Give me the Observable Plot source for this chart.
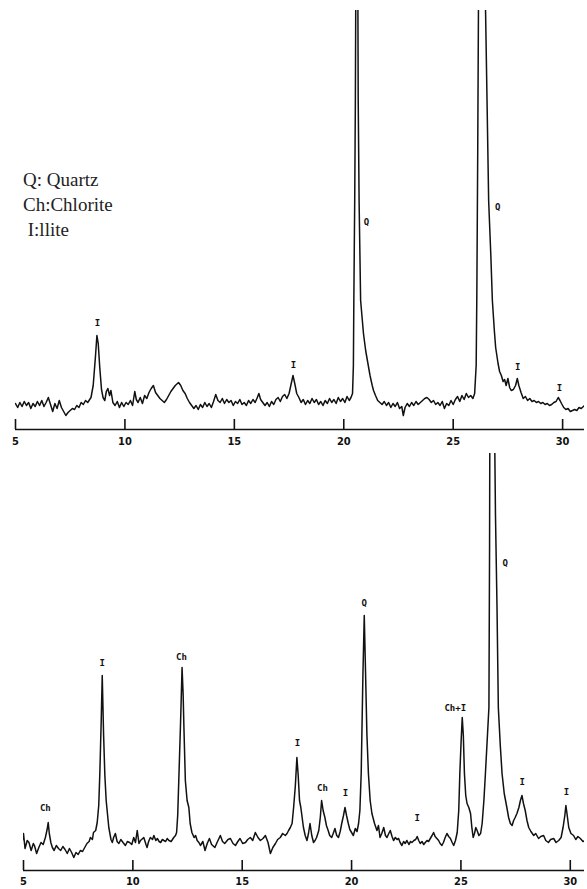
<!DOCTYPE html>
<html><head><meta charset="utf-8">
<script src="https://cdn.jsdelivr.net/npm/d3@7"></script>
<script src="https://cdn.jsdelivr.net/npm/@observablehq/plot@0.6"></script>
<style>
body{margin:0;background:#fff;}
#wrap{position:relative;width:587px;height:889px;overflow:hidden;background:#fff;color:#111;}
#top{position:absolute;left:0;top:0;}
#bot{position:absolute;left:0;top:450px;}
#legend{position:absolute;left:23px;top:167px;font-family:"Liberation Serif",serif;font-size:19px;line-height:25px;color:#222;white-space:pre;}
</style></head><body>
<div id="wrap"><div id="top"></div><div id="bot"></div><div id="legend"></div></div>
<script>
// 2θ tick labels
const thetaTicks = [5, 10, 15, 20, 25, 30];
const legendLines = ["Q: Quartz", "Ch:Chlorite", " I:llite"];

// upper pattern: [2θ, intensity above baseline]
const topPattern = [
[5.0,2],[5.1,-2],[5.2,3],[5.3,-1],[5.4,4],[5.5,0],[5.6,3],[5.7,-3],[5.8,2],[5.9,-1],[6.0,4],[6.1,0],[6.2,5],[6.3,-1],[6.4,3],[6.5,8],[6.6,1],[6.7,-6],[6.8,2],[6.9,-3],[7.0,5],[7.1,-2],[7.2,-6],[7.3,-10],[7.4,-7],[7.5,-5],[7.6,-3],[7.7,-4],[7.8,0],[7.9,-2],[8.0,3],[8.1,1],[8.2,5],[8.3,3],[8.45,8],[8.55,20],[8.65,48],[8.72,70],[8.78,62],[8.85,38],[8.93,16],[9.0,8],[9.08,5],[9.15,14],[9.22,17],[9.3,10],[9.36,15],[9.45,3],[9.55,0],[9.65,4],[9.75,-2],[9.85,3],[9.95,-1],[10.05,3],[10.15,1],[10.25,5],[10.35,0],[10.45,14],[10.52,6],[10.6,3],[10.7,8],[10.8,2],[10.9,10],[11.0,7],[11.1,13],[11.2,17],[11.3,20],[11.4,13],[11.5,10],[11.6,7],[11.7,5],[11.8,3],[11.9,6],[12.0,10],[12.1,14],[12.2,17],[12.3,20],[12.45,23],[12.55,20],[12.65,15],[12.75,12],[12.85,7],[12.95,3],[13.05,0],[13.15,-3],[13.25,0],[13.35,-4],[13.45,1],[13.55,-2],[13.65,3],[13.75,-1],[13.85,2],[13.95,-2],[14.05,4],[14.15,11],[14.25,5],[14.35,3],[14.45,7],[14.55,2],[14.65,6],[14.75,3],[14.85,5],[14.95,0],[15.05,4],[15.15,2],[15.25,6],[15.35,1],[15.45,3],[15.55,0],[15.65,5],[15.75,2],[15.85,6],[15.95,3],[16.05,8],[16.12,12],[16.2,6],[16.3,3],[16.4,0],[16.5,3],[16.6,-1],[16.7,4],[16.8,1],[16.9,6],[17.0,8],[17.1,4],[17.2,9],[17.3,11],[17.4,7],[17.5,12],[17.6,22],[17.68,30],[17.76,22],[17.85,12],[17.95,8],[18.05,3],[18.15,6],[18.25,1],[18.35,5],[18.45,2],[18.55,7],[18.65,3],[18.75,6],[18.85,1],[18.95,4],[19.05,0],[19.15,5],[19.25,2],[19.35,7],[19.45,3],[19.55,6],[19.65,2],[19.75,8],[19.85,4],[19.95,7],[20.05,3],[20.15,9],[20.25,5],[20.33,8],[20.40,12],[20.44,40],[20.46,105],[20.50,205],[20.53,305],[20.60,700],[20.66,305],[20.70,205],[20.77,105],[20.90,72],[21.0,55],[21.08,45],[21.2,30],[21.3,20],[21.36,15],[21.45,10],[21.55,5],[21.65,3],[21.75,1],[21.85,4],[21.95,0],[22.05,3],[22.15,-2],[22.25,2],[22.35,-1],[22.45,3],[22.55,-3],[22.65,-1],[22.72,-10],[22.8,-2],[22.9,2],[23.0,-1],[23.1,3],[23.2,0],[23.3,4],[23.4,1],[23.5,3],[23.6,5],[23.7,7],[23.8,8],[23.9,6],[24.0,3],[24.1,5],[24.2,1],[24.3,3],[24.4,0],[24.5,4],[24.6,-3],[24.7,2],[24.8,0],[24.9,5],[25.0,1],[25.1,6],[25.2,9],[25.3,4],[25.4,10],[25.5,6],[25.6,12],[25.7,8],[25.8,10],[25.9,7],[25.98,12],[26.05,40],[26.08,110],[26.12,250],[26.16,420],[26.3,700],[26.46,420],[26.55,300],[26.62,205],[26.72,150],[26.79,105],[26.88,75],[26.94,58],[27.05,42],[27.12,34],[27.2,30],[27.28,24],[27.35,26],[27.42,20],[27.5,27],[27.58,18],[27.65,15],[27.75,16],[27.85,20],[27.93,27],[28.0,20],[28.1,13],[28.2,7],[28.3,9],[28.4,5],[28.5,7],[28.6,4],[28.7,5],[28.8,3],[28.9,4],[29.0,2],[29.1,3],[29.2,1],[29.3,2],[29.4,0],[29.5,1],[29.6,3],[29.7,4],[29.8,8],[29.88,5],[29.95,2],[30.05,-2],[30.15,-4],[30.25,-3],[30.35,-6],[30.45,-5],[30.55,-4],[30.65,-5],[30.75,-2],[30.85,-3],[30.95,-1],[31.0,0]
];

// lower pattern: [2θ, intensity above baseline]
const bottomPattern = [
[4.95,5],[5.0,12],[5.07,-3],[5.17,5],[5.25,3],[5.35,-5],[5.45,2],[5.5,0],[5.6,-8],[5.7,-2],[5.8,3],[5.9,1],[6.0,8],[6.08,16],[6.13,23],[6.18,12],[6.25,3],[6.32,-2],[6.4,-5],[6.5,0],[6.6,-3],[6.7,-5],[6.8,-1],[6.9,-4],[7.0,-8],[7.1,-3],[7.2,-7],[7.3,-12],[7.4,-7],[7.5,-9],[7.6,-5],[7.7,-6],[7.8,-2],[7.9,2],[8.0,4],[8.06,8],[8.15,6],[8.2,13],[8.3,15],[8.37,23],[8.44,40],[8.49,72],[8.55,122],[8.6,170],[8.66,112],[8.72,70],[8.78,45],[8.9,18],[9.0,6],[9.06,3],[9.12,8],[9.2,12],[9.28,4],[9.36,2],[9.45,6],[9.55,3],[9.66,0],[9.75,4],[9.85,3],[9.95,1],[10.04,8],[10.12,3],[10.2,15],[10.28,2],[10.35,5],[10.5,8],[10.6,1],[10.65,-2],[10.72,4],[10.8,8],[10.9,6],[10.96,10],[11.05,5],[11.12,7],[11.2,4],[11.27,3],[11.35,6],[11.42,5],[11.5,4],[11.57,7],[11.65,5],[11.75,4],[11.87,8],[11.95,10],[12.0,13],[12.05,30],[12.1,65],[12.18,122],[12.25,178],[12.3,150],[12.33,122],[12.4,65],[12.48,45],[12.56,38],[12.62,22],[12.7,13],[12.8,8],[12.87,10],[12.94,5],[13.02,3],[13.09,0],[13.2,4],[13.3,-5],[13.4,2],[13.5,7],[13.6,1],[13.75,-2],[13.85,3],[14.0,10],[14.1,4],[14.2,2],[14.35,6],[14.46,7],[14.58,2],[14.69,0],[14.8,4],[14.9,7],[15.02,2],[15.15,3],[15.25,6],[15.37,8],[15.48,5],[15.6,13],[15.72,8],[15.83,5],[15.95,7],[16.06,10],[16.18,3],[16.29,-8],[16.4,-2],[16.52,2],[16.62,6],[16.74,8],[16.85,12],[16.97,10],[17.05,12],[17.12,15],[17.2,18],[17.28,22],[17.35,38],[17.43,60],[17.5,88],[17.56,70],[17.62,45],[17.68,38],[17.74,28],[17.8,18],[17.88,10],[17.96,5],[18.03,12],[18.1,22],[18.18,10],[18.26,3],[18.33,5],[18.4,8],[18.5,15],[18.57,28],[18.63,45],[18.7,35],[18.78,28],[18.85,20],[18.93,15],[19.0,10],[19.09,8],[19.16,12],[19.24,17],[19.32,10],[19.4,8],[19.48,14],[19.55,22],[19.63,30],[19.7,38],[19.77,30],[19.85,22],[19.92,16],[20.0,13],[20.08,10],[20.17,17],[20.25,14],[20.32,22],[20.38,35],[20.44,72],[20.52,172],[20.58,230],[20.64,172],[20.7,112],[20.77,72],[20.85,45],[20.93,32],[21.05,22],[21.16,15],[21.23,20],[21.3,8],[21.38,12],[21.47,18],[21.55,10],[21.62,8],[21.7,12],[21.77,15],[21.85,9],[21.92,5],[22.0,8],[22.08,6],[22.15,7],[22.22,3],[22.3,0],[22.38,4],[22.45,2],[22.53,5],[22.62,1],[22.7,4],[22.76,3],[22.85,5],[22.93,6],[23.0,9],[23.07,5],[23.14,2],[23.22,4],[23.3,1],[23.37,3],[23.45,5],[23.52,4],[23.6,7],[23.68,10],[23.75,13],[23.82,9],[23.9,7],[23.98,5],[24.05,2],[24.13,0],[24.2,3],[24.28,8],[24.36,12],[24.44,9],[24.52,7],[24.6,3],[24.67,0],[24.75,5],[24.83,13],[24.9,35],[24.95,72],[25.01,105],[25.06,128],[25.11,110],[25.16,72],[25.22,50],[25.28,42],[25.36,38],[25.44,32],[25.5,18],[25.56,8],[25.62,12],[25.68,18],[25.74,15],[25.82,10],[25.9,12],[25.97,22],[26.05,45],[26.12,72],[26.2,105],[26.28,138],[26.31,300],[26.34,600],[26.42,800],[26.5,500],[26.58,330],[26.65,238],[26.71,138],[26.8,100],[26.88,72],[26.98,52],[27.1,38],[27.18,28],[27.26,22],[27.34,20],[27.41,25],[27.48,28],[27.56,32],[27.65,38],[27.72,45],[27.79,50],[27.86,42],[27.94,35],[28.02,25],[28.1,18],[28.2,14],[28.33,10],[28.42,12],[28.55,7],[28.65,9],[28.78,10],[28.88,5],[29.0,3],[29.1,6],[29.24,7],[29.35,3],[29.47,5],[29.58,8],[29.67,18],[29.75,30],[29.8,40],[29.86,30],[29.93,18],[30.03,12],[30.15,10],[30.25,6],[30.35,9],[30.46,7],[30.58,4],[30.69,5]
];

// peak labels: 2θ, intensity level of the label, mineral
const topLabels = [
  {t: 8.75, v: 82, s: "I"},
  {t: 17.7, v: 40, s: "I"},
  {t: 21.04, v: 183, s: "Q"},
  {t: 27.03, v: 198, s: "Q"},
  {t: 27.95, v: 38, s: "I"},
  {t: 29.86, v: 17, s: "I"}
];
const bottomLabels = [
  {t: 6.0, v: 37, s: "Ch"},
  {t: 8.6, v: 182, s: "I"},
  {t: 12.22, v: 188, s: "Ch"},
  {t: 17.52, v: 102, s: "I"},
  {t: 18.67, v: 57, s: "Ch"},
  {t: 19.72, v: 52, s: "I"},
  {t: 20.58, v: 242, s: "Q"},
  {t: 23.0, v: 27, s: "I"},
  {t: 24.74, v: 137, s: "Ch+I"},
  {t: 27.03, v: 282, s: "Q"},
  {t: 27.8, v: 63, s: "I"},
  {t: 29.82, v: 53, s: "I"}
];

function panel(o) {
  const [y0] = o.yDomain;
  return Plot.plot({
    width: 587, height: o.height,
    marginTop: o.marginTop, marginBottom: o.marginBottom,
    marginLeft: o.marginLeft, marginRight: o.marginRight,
    x: {domain: o.xDomain, label: null},
    y: {domain: o.yDomain, axis: null, label: null},
    style: {background: "transparent", color: "#111"},
    marks: [
      Plot.ruleY([y0], {x1: o.xDomain[0], x2: o.xDomain[1], stroke: "#111", strokeWidth: 1.6}),
      Plot.ruleX(thetaTicks, {x: d => d, y1: y0, y2: y0 + 10, stroke: "#111", strokeWidth: 1.6}),
      Plot.axisX(thetaTicks, {tickSize: 0, tickPadding: o.tickPadding, label: null, fontSize: 11, fontWeight: "bold", fontFamily: "DejaVu Sans Condensed, sans-serif"}),
      Plot.line(o.pattern, {x: d => d[0], y: d => d[1], stroke: "#111", strokeWidth: 1.5, clip: true}),
      Plot.text(o.labels, {x: "t", y: "v", text: "s", fontSize: 9, fontWeight: "bold", fontFamily: "DejaVu Sans Mono, monospace", fill: "#111"})
    ]
  });
}

document.getElementById("top").append(panel({
  pattern: topPattern, labels: topLabels, height: 450,
  marginTop: 10, marginBottom: 21, marginLeft: 15, marginRight: 3,
  xDomain: [5, 31], yDomain: [-24, 395], tickPadding: 8
}));
document.getElementById("bot").append(panel({
  pattern: bottomPattern, labels: bottomLabels, height: 439,
  marginTop: 3, marginBottom: 19, marginLeft: 23, marginRight: 3,
  xDomain: [5, 30.65], yDomain: [-25, 392], tickPadding: 7
}));
document.getElementById("legend").textContent = legendLines.join("\n");
</script>
</body></html>
